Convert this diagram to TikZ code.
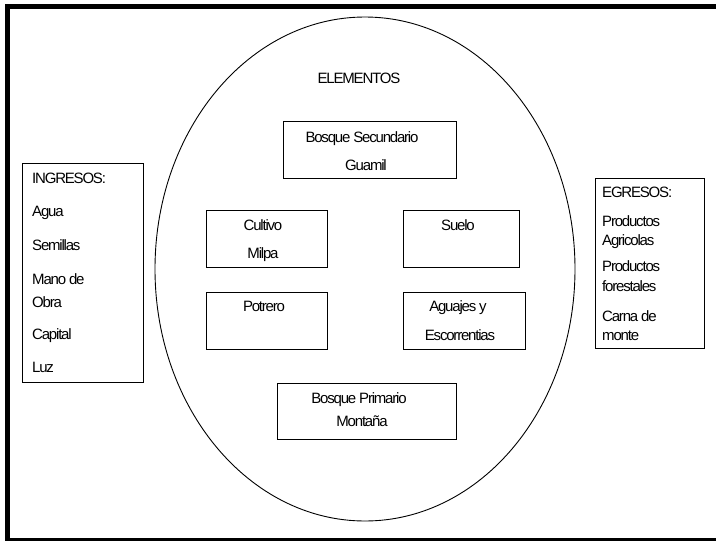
\documentclass[tikz,border=0pt]{standalone}
\usepackage{fontspec}
\setmainfont{Liberation Sans}[LetterSpace=-8]
\begin{document}
\begin{tikzpicture}[x=1pt,y=-1pt,
  box/.style={draw,line width=0.9pt,inner sep=0pt,minimum width=#1},
  txt/.style={inner sep=0pt,anchor=base,font=\fontsize{15}{18}\selectfont},
  ltxt/.style={inner sep=0pt,anchor=base west,font=\fontsize{15}{18}\selectfont}]
\useasboundingbox (0,0) rectangle (716,541);
\fill[white] (0,0) rectangle (716,541);
% frame
\draw[line width=5pt] (7.5,540) -- (7.5,6.5) -- (720,6.5);
\draw[line width=5pt] (5,540) -- (720,540);
% ellipse
\coordinate (ell) at (365,269);
\draw[line width=0.9pt] (ell) ellipse [x radius=210, y radius=252];
% boxes
\node[box=121pt,minimum height=219pt] (ing) at (82.5,272.5) {};
\node[box=109pt,minimum height=170pt] (eg) at (649.5,263) {};
\node[box=173pt,minimum height=57pt] (bs) at (369.5,149.5) {};
\node[box=121pt,minimum height=57pt] (cu) at (266.5,238.5) {};
\node[box=116pt,minimum height=57pt] (su) at (461,238.5) {};
\node[box=121pt,minimum height=57pt] (po) at (266.5,320.5) {};
\node[box=122pt,minimum height=57pt] (ag) at (464,320.5) {};
\node[box=179pt,minimum height=56pt] (bp) at (366.5,411) {};
% center texts
\node[txt] (tel) at (359,83) {ELEMENTOS};
\node[txt] (tbs1) at (362,142) {Bosque Secundario};
\node[txt] (tbs2) at (366,170) {Guamil};
\node[txt] (tcu1) at (263,230) {Cultivo};
\node[txt] (tcu2) at (263,258) {Milpa};
\node[txt] (tsu) at (458,230) {Suelo};
\node[txt] (tpo) at (264,311) {Potrero};
\node[txt] (tag1) at (458,311) {Aguajes y};
\node[txt] (tag2) at (460,340) {Escorrentias};
\node[txt] (tbp1) at (359,403) {Bosque Primario};
\node[txt] (tbp2) at (362,426) {Montaña};
% left list
\node[ltxt] (i0) at (32,183) {INGRESOS:};
\node[ltxt] (i1) at (32,216) {Agua};
\node[ltxt] (i2) at (32,250) {Semillas};
\node[ltxt] (i3) at (32,284) {Mano de};
\node[ltxt] (i4) at (32,307) {Obra};
\node[ltxt] (i5) at (32,339) {Capital};
\node[ltxt] (i6) at (32,372) {Luz};
% right list
\node[ltxt] (e0) at (602,197) {EGRESOS:};
\node[ltxt] (e1) at (602,226) {Productos};
\node[ltxt] (e2) at (602,245) {Agricolas};
\node[ltxt] (e3) at (602,271) {Productos};
\node[ltxt] (e4) at (602,291) {forestales};
\node[ltxt] (e5) at (602,321) {Carna de};
\node[ltxt] (e6) at (602,340) {monte};
\end{tikzpicture}
\end{document}
